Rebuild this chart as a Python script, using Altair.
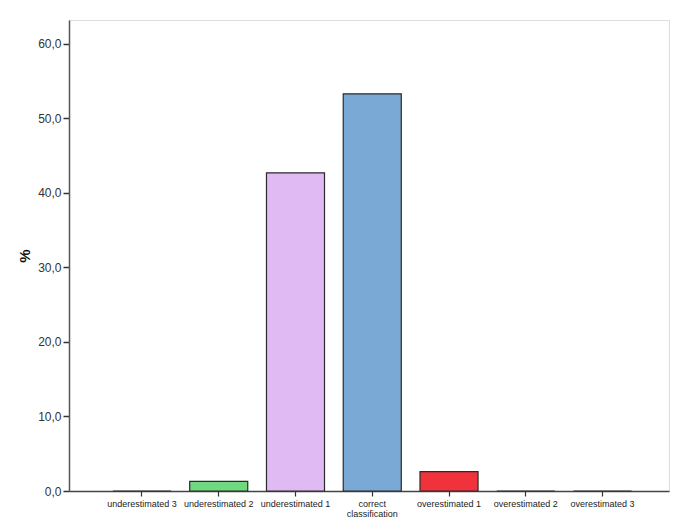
import altair as alt
import pandas as pd

categories = ["underestimated 3", "underestimated 2", "underestimated 1",
              "correct\nclassification", "overestimated 1", "overestimated 2",
              "overestimated 3"]
percent = [0.0, 1.3, 42.7, 53.3, 2.6, 0.0, 0.0]
colors = ["#e0e0e0", "#70d980", "#dfbaf3", "#7aa9d6", "#f0323c", "#e0e0e0", "#e0e0e0"]

df = pd.DataFrame({"cat": categories, "pct": percent, "col": colors})

chart = alt.Chart(df).mark_bar(stroke="#2a2a2a", strokeWidth=1.2).encode(
    x=alt.X("cat:N", sort=categories,
            scale=alt.Scale(paddingInner=0.244, paddingOuter=0.53, align=0.54),
            axis=alt.Axis(title=None, labelAngle=0, labelFontSize=9,
                          labelColor="#222", labelFont="Liberation Sans",
                          labelExpr="split(datum.label, '\\n')",
                          tickColor="#333", tickSize=5, tickWidth=1.2,
                          domainColor="#444", domainWidth=1.5,
                          labelPadding=3, labelLineHeight=10)),
    y=alt.Y("pct:Q", scale=alt.Scale(domain=[0, 63.2], nice=False),
            axis=alt.Axis(title="%", titleFontSize=15, titleFont="Liberation Sans",
                          titleFontWeight="bold", titleColor="#111",
                          titlePadding=5,
                          values=[0, 10, 20, 30, 40, 50, 60],
                          labelExpr="replace(format(datum.value, '.1f'), '.', ',')",
                          labelFontSize=12, labelFont="Liberation Sans",
                          labelColor="#333", tickColor="#333", tickSize=6,
                          tickWidth=1.5, domainColor="#555", domainWidth=1.5,
                          grid=False, labelPadding=2)),
    color=alt.Color("col:N", scale=None, legend=None),
).properties(
    width=600, height=471,
    autosize=alt.AutoSizeParams(type="none"),
    padding={"left": 61, "top": 12, "right": 8, "bottom": 30},
).configure_view(
    stroke="#444", strokeWidth=1.5
).configure(background="white")

chart.save("out.html", embed_options={"renderer": "svg", "actions": False})
